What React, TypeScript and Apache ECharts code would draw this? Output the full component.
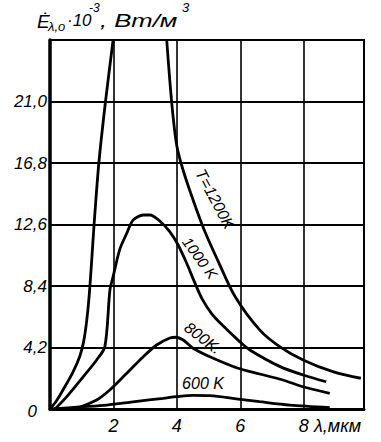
import React, { useEffect, useRef } from 'react';
import * as echarts from 'echarts';

// Tick labels (Russian decimal comma)
const yTickLabels = ['0', '4,2', '8,4', '12,6', '16,8', '21,0'];
const xTickLabels = ['', '2', '4', '6', '8'];

// Curves: [λ, мкм ; E·10^-3]
const t1200Rise = [
  [0, 0], [0.2, 0.55], [0.41, 1.3], [0.72, 2.5], [0.94, 3.6], [1.06, 4.6], [1.15, 5.9],
  [1.23, 7.6], [1.31, 10.0], [1.39, 12.6], [1.54, 16.8], [1.75, 21.0], [1.99, 25.2],
];
const t1200Fall = [
  [3.68, 25.2], [3.83, 21.1], [3.98, 18.2], [4.13, 16.8], [4.41, 14.9], [4.83, 12.4],
  [5.3, 10.1], [5.83, 7.7], [6.61, 5.4], [7.24, 4.26], [7.98, 3.35], [8.92, 2.55], [9.8, 2.1],
];
const t1000 = [
  [0.16, 0], [0.53, 0.84], [1.05, 2.21], [1.47, 3.35], [1.73, 4.26], [1.89, 8.13],
  [1.99, 9.04], [2.2, 10.9], [2.42, 12.0], [2.62, 12.9], [2.94, 13.25], [3.15, 13.25],
  [3.46, 12.84], [3.78, 12.1], [4.04, 11.2], [4.31, 9.95], [4.55, 8.7], [4.8, 7.5],
  [5.1, 6.5], [5.4, 5.8], [5.98, 4.6], [6.3, 4.03], [7.24, 2.91], [7.98, 2.32], [8.71, 1.86],
];
const t800 = [
  [0.79, 0], [1.47, 0.61], [1.91, 1.35], [2.42, 2.44], [2.94, 3.57], [3.36, 4.37],
  [3.78, 4.85], [3.97, 4.9], [4.2, 4.71], [4.51, 4.15], [5.04, 3.57], [5.93, 2.78],
  [6.61, 2.39], [7.34, 1.98], [7.98, 1.52], [8.82, 1.07],
];
const t600 = [
  [0.06, 0], [0.94, 0.14], [1.79, 0.27], [2.68, 0.51], [3.57, 0.73], [3.99, 0.84],
  [4.51, 0.93], [5.04, 0.91], [5.93, 0.68], [6.61, 0.5], [7.56, 0.27], [8.82, 0.1],
];

const curveLabels = ['T=1200K', '1000 K', '800K.', '600 K'];

const FONT = "'Liberation Sans', Arial, sans-serif";

export default function App() {
  const ref = useRef<HTMLDivElement>(null);

  useEffect(() => {
    if (!ref.current) return;
    const chart = echarts.init(ref.current, null, { renderer: 'svg' });

    const curve = (data: number[][]) => ({
      type: 'line',
      data,
      smooth: 0.3,
      symbol: 'none',
      clip: true,
      silent: true,
      lineStyle: { color: '#000', width: 2.8 },
    });

    const txt = (
      text: string, x: number, y: number, size: number,
      rotation = 0, align = 'center', scaleX = 1,
    ) => ({
      type: 'text',
      x,
      y,
      rotation,
      scaleX,
      z: 100,
      style: {
        text,
        font: `italic ${size}px ${FONT}`,
        fill: '#000',
        align,
        verticalAlign: 'middle',
      },
    });

    chart.setOption({
      animation: false,
      backgroundColor: '#fff',
      grid: {
        left: 50, top: 40, width: 314, height: 369,
        show: true, borderColor: '#000', borderWidth: 2, backgroundColor: 'transparent',
      },
      xAxis: {
        type: 'value', min: 0, max: 9.9, interval: 2,
        axisLine: { lineStyle: { color: '#000', width: 3 } },
        axisTick: { show: false },
        splitLine: { lineStyle: { color: '#000', width: 1.6 } },
        axisLabel: {
          margin: 8,
          color: '#000',
          fontFamily: FONT,
          fontStyle: 'italic',
          fontSize: 18,
          formatter: (v: number) => xTickLabels[Math.round(v / 2)] ?? '',
        },
      },
      yAxis: {
        type: 'value', min: 0, max: 25.2, interval: 4.2,
        axisLine: { lineStyle: { color: '#000', width: 3.5 } },
        axisTick: { show: false },
        splitLine: { lineStyle: { color: '#000', width: 2 } },
        axisLabel: {
          margin: 3,
          color: '#000',
          fontFamily: FONT,
          fontStyle: 'italic',
          fontSize: 17,
          formatter: (v: number, i: number) => (i === 0 ? '{z|0}' : yTickLabels[i] ?? ''),
          rich: {
            z: { padding: [4, 10, 0, 0], fontFamily: FONT, fontStyle: 'italic', fontSize: 17, color: '#000' },
          },
        },
      },
      series: [
        curve(t1200Rise),
        curve(t1200Fall),
        curve(t1000),
        curve(t800),
        curve(t600),
      ],
      graphic: [
        // y-axis title: Ė λ,o ·10^-3, Вт/м^3
        txt('Ė', 37, 21, 19, 0, 'left'),
        txt('λ,o', 48, 26, 13, 0, 'left'),
        txt('·10', 67, 20, 17, 0, 'left'),
        txt('-3', 89, 8, 12, 0, 'left'),
        txt(', Вт/м', 100, 21, 19, 0, 'left', 1.35),
        txt('3', 182, 7, 13, 0, 'left'),
        // x-axis unit
        txt('λ,мкм', 314, 426, 18, 0, 'left'),
        // curve labels
        txt(curveLabels[0], 215, 199, 16, -1.08),
        txt(curveLabels[1], 200, 258, 15, -0.94),
        txt(curveLabels[2], 203, 338, 16, -0.65),
        txt(curveLabels[3], 203, 383, 16, 0),
      ],
    });

    return () => chart.dispose();
  }, []);

  return (
    <div
      ref={ref}
      style={{ position: 'fixed', left: 0, top: 0, width: 381, height: 442, background: '#fff' }}
    />
  );
}
